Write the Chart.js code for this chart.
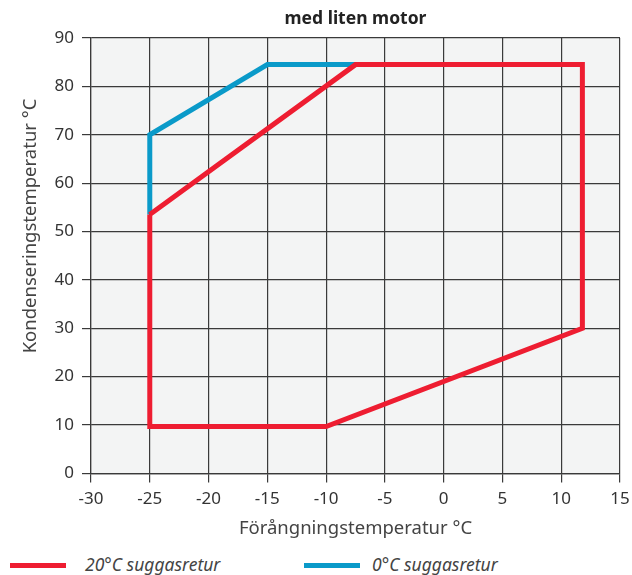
<!DOCTYPE html>
<html>
<head>
<meta charset="utf-8">
<script src="https://cdn.jsdelivr.net/npm/chart.js@4/dist/chart.umd.min.js"></script>
<style>
  html, body { margin: 0; padding: 0; background: #fff; }
  #wrap { position: relative; width: 632px; height: 575px; }
  #box { position: absolute; left: 0; top: 0; width: 632px; height: 548px; }
  .leg-line { position: absolute; height: 5px; width: 56px; top: 563px; }
  .leg-txt { position: absolute; top: 553px; font-family: 'Noto Sans', sans-serif; font-style: italic;
             font-size: 17.5px; color: #444; line-height: 22px; white-space: nowrap; }
</style>
</head>
<body>
<div id="wrap">
  <div id="box"><canvas id="myChart"></canvas></div>
  <div class="leg-line" style="left:10px;background:#ee1d31"></div>
  <div class="leg-txt" style="left:85px">20°C suggasretur</div>
  <div class="leg-line" style="left:304px;background:#0a9ac9"></div>
  <div class="leg-txt" style="left:372px">0°C suggasretur</div>
</div>
<script>
// 20°C suggasretur
var redX = [-25, -7.5, 11.8, 11.8, -10, -25, -25];
var redY = [53.5, 84.5, 84.5, 30, 9.7, 9.7, 53.5];
// 0°C suggasretur
var blueX = [-25, -25, -15, -7.5];
var blueY = [53.5, 70, 84.5, 84.5];

var xTicks = [-30, -25, -20, -15, -10, -5, 0, 5, 10, 15];
var yTicks = [0, 10, 20, 30, 40, 50, 60, 70, 80, 90];

function toPoints(xs, ys) {
    var pts = [];
    for (var i = 0; i < xs.length; i++) {
        pts.push({ x: xs[i], y: ys[i] });
    }
    return pts;
}

var plotBg = {
    id: 'plotBg',
    beforeDraw: function(chart) {
        var a = chart.chartArea;
        var c = chart.ctx;
        c.save();
        c.fillStyle = '#f3f4f4';
        c.fillRect(a.left, a.top, a.right - a.left, a.bottom - a.top);
        c.restore();
    }
};

// y axis title, sits a bit above the middle of the axis like the original
var yTitle = {
    id: 'yTitle',
    afterDraw: function(chart) {
        var c = chart.ctx;
        c.save();
        c.translate(31, 226);
        c.rotate(-Math.PI / 2);
        c.fillStyle = '#444';
        c.font = '18.5px "Noto Sans"';
        c.textAlign = 'center';
        c.textBaseline = 'middle';
        c.fillText('Kondenseringstemperatur °C', 0, 0);
        c.restore();
    }
};

var ctx = document.getElementById('myChart').getContext('2d');
var myChart = new Chart(ctx, {
    type: 'scatter',
    data: {
        datasets: [{
            label: '20°C suggasretur',
            data: toPoints(redX, redY),
            showLine: true,
            borderColor: '#ee1d31',
            backgroundColor: '#ee1d31',
            borderWidth: 5,
            pointRadius: 0,
            borderJoinStyle: 'miter'
        }, {
            label: '0°C suggasretur',
            data: toPoints(blueX, blueY),
            showLine: true,
            borderColor: '#0a9ac9',
            backgroundColor: '#0a9ac9',
            borderWidth: 5,
            pointRadius: 0,
            borderJoinStyle: 'miter'
        }]
    },
    options: {
        responsive: true,
        maintainAspectRatio: false,
        animation: false,
        layout: { padding: { left: 10, right: 12, top: 9, bottom: 8 } },
        plugins: {
            tooltip: { enabled: false },
            legend: { display: false }
        },
        scales: {
            x: {
                type: 'linear',
                min: -30,
                max: 15,
                afterBuildTicks: function(axis) {
                    axis.ticks = xTicks.map(function(v) { return { value: v }; });
                },
                afterFit: function(axis) {
                    axis.paddingLeft = 0;
                    axis.paddingRight = 0;
                },
                grid: { color: '#3a3a3a', lineWidth: 1.2, tickLength: 9 },
                border: { color: '#3a3a3a', width: 1.2 },
                ticks: { color: '#333', font: { family: 'Noto Sans', size: 17 }, padding: 7, maxRotation: 0 },
                title: {
                    display: true,
                    text: 'Förångningstemperatur °C',
                    color: '#444',
                    font: { family: 'Noto Sans', size: 18.5 },
                    padding: { top: 1, bottom: 0 }
                }
            },
            x2: {
                type: 'linear',
                position: 'top',
                min: -30,
                max: 15,
                grid: { display: false, drawTicks: false },
                border: { display: false },
                ticks: { display: false },
                title: {
                    display: true,
                    text: 'med liten motor',
                    color: '#222',
                    font: { family: 'Noto Sans', size: 17.5, weight: 'bold' },
                    padding: { top: 0, bottom: 8 }
                }
            },
            y: {
                type: 'linear',
                min: 0,
                max: 90,
                afterBuildTicks: function(axis) {
                    axis.ticks = yTicks.map(function(v) { return { value: v }; });
                },
                afterFit: function(axis) {
                    axis.width = 81;
                    axis.paddingTop = 0;
                    axis.paddingBottom = 0;
                },
                grid: { color: '#3a3a3a', lineWidth: 1.2, tickLength: 9 },
                border: { color: '#3a3a3a', width: 1.2 },
                ticks: { color: '#333', font: { family: 'Noto Sans', size: 17 }, padding: 8 }
            }
        }
    },
    plugins: [plotBg, yTitle]
});
</script>
</body>
</html>
